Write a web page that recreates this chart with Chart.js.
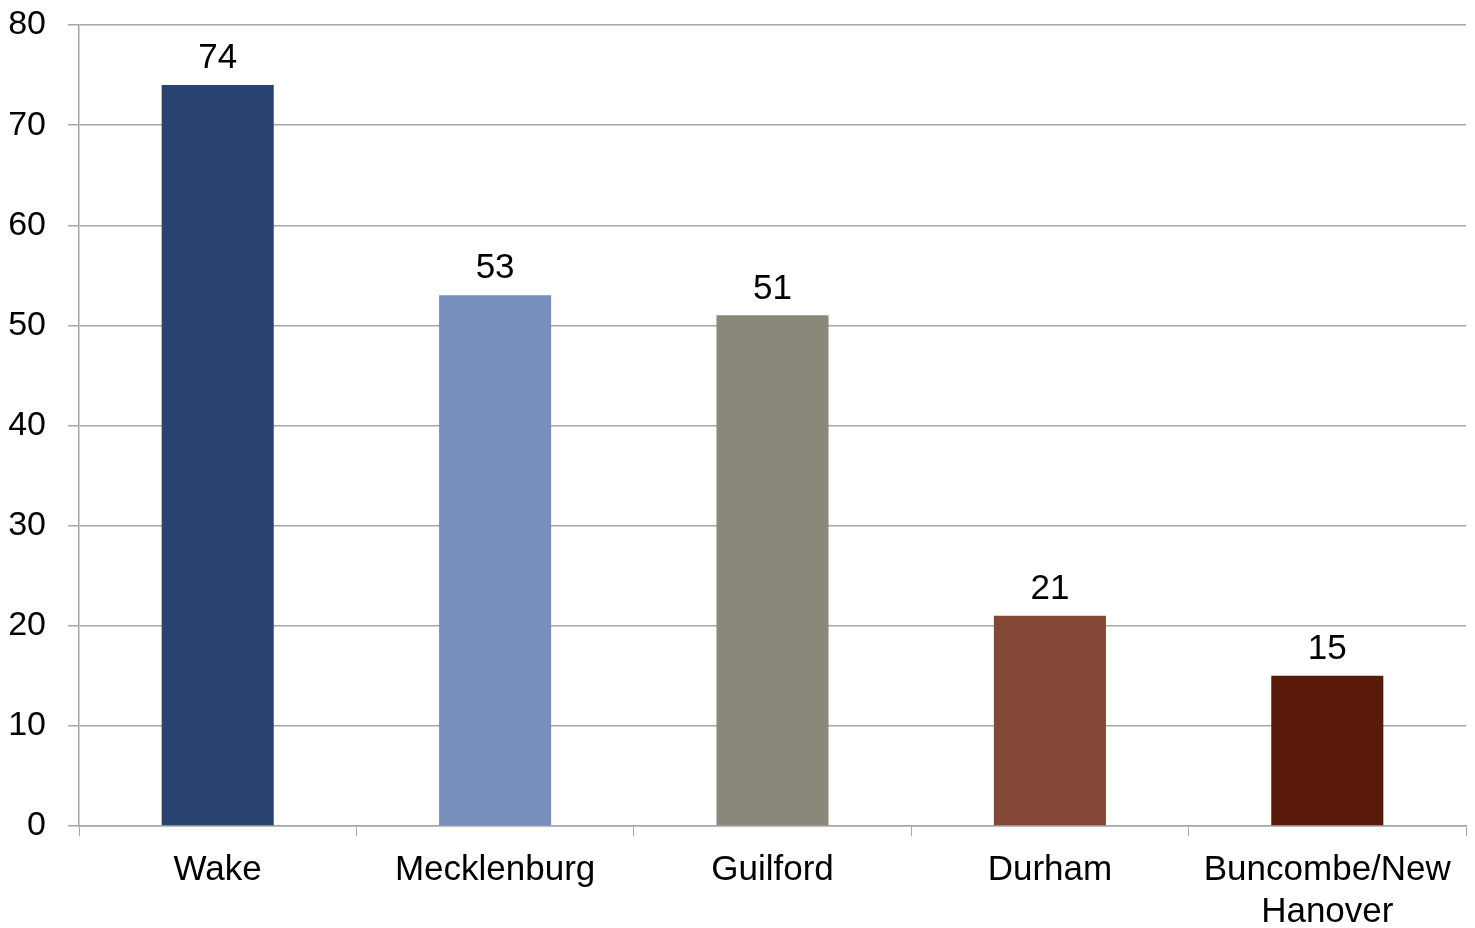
<!DOCTYPE html>
<html>
<head>
<meta charset="utf-8">
<script src="https://cdn.jsdelivr.net/npm/chart.js@4"></script>
<style>
    html, body { margin: 0; padding: 0; background: #ffffff; }
    #wrap { width: 1475px; height: 928px; }
</style>
</head>
<body>
<div id="wrap"><canvas id="graphique"></canvas></div>
<script>

//------------------DONNEES-------------------------------

const comtes = ['Wake', 'Mecklenburg', 'Guilford', 'Durham', ['Buncombe/New', 'Hanover']]
const valeurs = [74, 53, 51, 21, 15]
const couleurs = ['#2A4270', '#758EBD', '#8C877B', '#834835', '#5A1A09']
const graduations = [0, 10, 20, 30, 40, 50, 60, 70, 80]

const police = 'Liberation Sans, Arial, sans-serif'
const gris = '#A6A6A6'

//------------------ETIQUETTES AU DESSUS DES BARRES (pas de plugin datalabels dispo)-------------------------------

const etiquettes = {
    id: 'etiquettes',
    afterDatasetsDraw(chart) {
        const c = chart.ctx
        const meta = chart.getDatasetMeta(0)
        c.save()
        c.font = '35px ' + police
        c.fillStyle = '#000000'
        c.textAlign = 'center'
        c.textBaseline = 'bottom'
        meta.data.forEach((barre, i) => {
            c.fillText(valeurs[i], barre.x, barre.y - 9)
        })
        c.restore()
    }
}

const ctx = document.getElementById('graphique').getContext('2d')

new Chart(ctx, {
    type: 'bar',
    plugins: [etiquettes],
    data: {
        labels: comtes,
        datasets: [{
            data: valeurs,
            backgroundColor: couleurs,
            borderWidth: 0,
            barPercentage: 1,
            categoryPercentage: 0.404
        }]
    },
    options: {
        responsive: true,
        maintainAspectRatio: false,
        animation: false,
        layout: {
            padding: { top: 25, right: 9, left: 0, bottom: 0 }
        },
        plugins: {
            legend: { display: false },
            tooltip: { enabled: false }
        },
        scales: {
            x: {
                grid: {
                    display: true,
                    offset: true,
                    drawOnChartArea: false,
                    drawTicks: true,
                    tickLength: 10,
                    color: gris
                },
                border: { display: true, color: gris, width: 1.5 },
                ticks: {
                    color: '#000000',
                    padding: 13,
                    maxRotation: 0,
                    autoSkip: false,
                    font: { family: police, size: 35, lineHeight: 1.2 }
                },
                afterFit: function (axe) { axe.height = 102 }
            },
            y: {
                min: 0,
                max: 80,
                afterBuildTicks: function (axe) {
                    axe.ticks = graduations.map(v => ({ value: v }))
                },
                grid: {
                    color: gris,
                    lineWidth: 1.5,
                    tickLength: 11
                },
                border: { display: true, color: gris, width: 1.5 },
                ticks: {
                    color: '#000000',
                    padding: 22,
                    font: { family: police, size: 34 }
                },
                afterFit: function (axe) {
                    axe.width = 79
                    // le padding des ticks pousse la zone du graphique vers le bas, on l'enleve
                    axe.paddingTop = 0
                    axe.paddingBottom = 0
                }
            }
        }
    }
})

</script>
</body>
</html>
